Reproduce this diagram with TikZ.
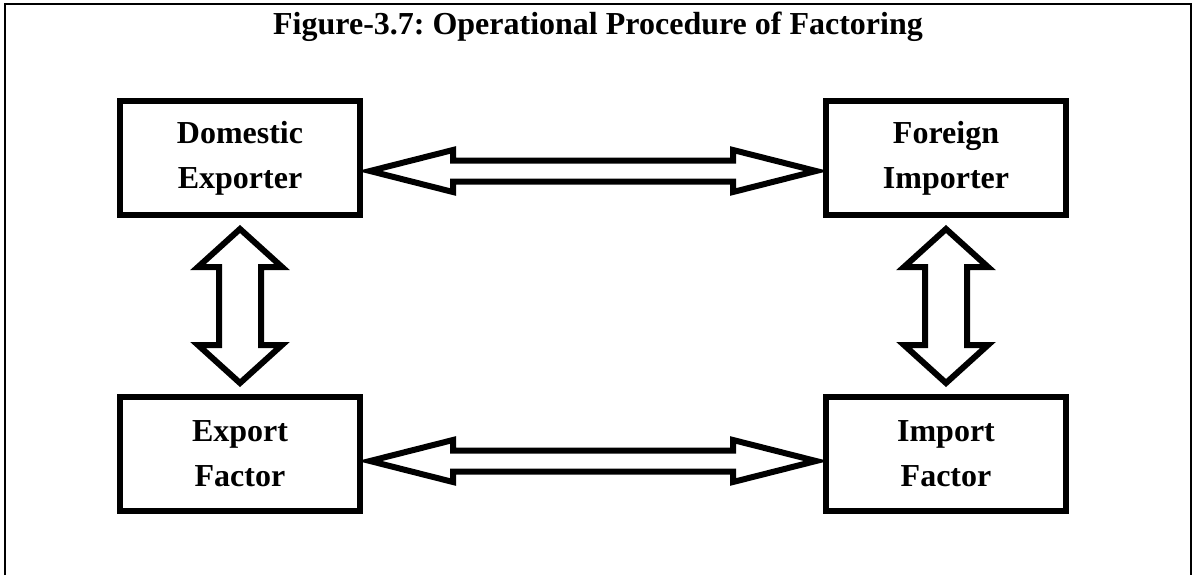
\documentclass[tikz,border=0pt]{standalone}
\usepackage{fontspec}
\setmainfont{Liberation Serif}
\usetikzlibrary{calc}
\frenchspacing

\begin{document}
\begin{tikzpicture}[x=0.75pt, y=-0.75pt, line join=miter,
  party/.style={draw, line width=4.5pt, minimum width=180pt, minimum height=85.5pt,
    inner sep=0pt, align=center, font=\fontsize{24}{34}\selectfont\bfseries},
  fat/.style={draw, line width=4.5pt, fill=white}]
\useasboundingbox (0,0) rectangle (1196,575);
% frame
\draw[line width=2.2pt] (5,575) |- (1191,4) -- (1191,575);
\node[font=\fontsize{24}{28}\selectfont\bfseries] (title) at (598,27)
  {Figure-3.7: Operational Procedure of Factoring};
% the four parties
\node[party] (dexp) at (240,158) {Domestic\\Exporter};
\node[party] (fimp) at (946,158) {Foreign\\Importer};
\node[party] (efac) at (240,454) {Export\\Factor};
\node[party] (ifac) at (946,454) {Import\\Factor};
% hollow double arrows, left to right
\draw[fat] ($(dexp.east)+(7,13)$) -- ++(83,-21) -- ++(0,10.5) -- ($(fimp.west)+(-90,2.5)$)
  -- ++(0,-10.5) -- ($(fimp.west)+(-7,13)$) -- ++(-83,21) -- ++(0,-10.5)
  -- ($(dexp.east)+(90,23.5)$) -- ++(0,10.5) -- cycle;
\draw[fat] ($(efac.east)+(7,7)$) -- ++(83,-21) -- ++(0,10.5) -- ($(ifac.west)+(-90,-3.5)$)
  -- ++(0,-10.5) -- ($(ifac.west)+(-7,7)$) -- ++(-83,21) -- ++(0,-10.5)
  -- ($(efac.east)+(90,17.5)$) -- ++(0,10.5) -- cycle;
% hollow double arrows, top to bottom
\draw[fat] ($(dexp.south)+(0,11)$) -- ++(42,38) -- ++(-21,0) -- ($(efac.north)+(21,-49)$)
  -- ++(21,0) -- ($(efac.north)+(0,-11)$) -- ++(-42,-38) -- ++(21,0)
  -- ($(dexp.south)+(-21,49)$) -- ++(-21,0) -- cycle;
\draw[fat] ($(fimp.south)+(0,11)$) -- ++(42,38) -- ++(-21,0) -- ($(ifac.north)+(21,-49)$)
  -- ++(21,0) -- ($(ifac.north)+(0,-11)$) -- ++(-42,-38) -- ++(21,0)
  -- ($(fimp.south)+(-21,49)$) -- ++(-21,0) -- cycle;
\end{tikzpicture}
\end{document}
